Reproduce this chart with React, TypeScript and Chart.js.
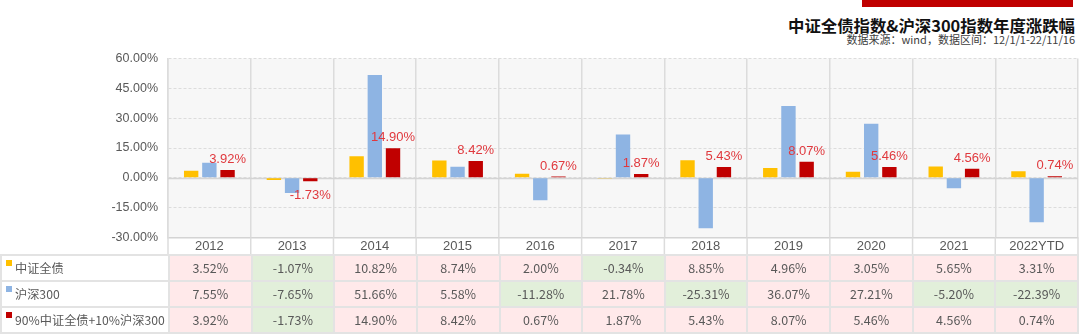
import React, { useEffect, useRef } from 'react';
import { Chart, registerables } from 'chart.js';

Chart.register(...registerables);

const categories = ['2012', '2013', '2014', '2015', '2016', '2017', '2018', '2019', '2020', '2021', '2022YTD'];
const seriesNames = ['中证全债', '沪深300', '90%中证全债+10%沪深300'];
const bondIndex = [3.52, -1.07, 10.82, 8.74, 2.0, -0.34, 8.85, 4.96, 3.05, 5.65, 3.31];
const csi300 = [7.55, -7.65, 51.66, 5.58, -11.28, 21.78, -25.31, 36.07, 27.21, -5.2, -22.39];
const mix = [3.92, -1.73, 14.9, 8.42, 0.67, 1.87, 5.43, 8.07, 5.46, 4.56, 0.74];
const seriesColors = ['#FFC000', '#8EB4E3', '#C00000'];
const yMin = -30;
const yMax = 60;
const yStep = 15;
const title = '中证全债指数&沪深300指数年度涨跌幅';
const subtitle = '数据来源：wind，数据区间：12/1/1-22/11/16';

const allSeries = [bondIndex, csi300, mix];
const pct = (v: number) => v.toFixed(2) + '%';

const bgPlugin = {
  id: 'plotBg',
  beforeDraw(chart: any) {
    const { ctx, chartArea } = chart;
    ctx.save();
    ctx.fillStyle = '#F7F7F7';
    ctx.fillRect(chartArea.left, chartArea.top, chartArea.right - chartArea.left, chartArea.bottom - chartArea.top);
    ctx.restore();
  },
};

const zeroLinePlugin = {
  id: 'zeroLine',
  beforeDatasetsDraw(chart: any) {
    const { ctx, chartArea, scales } = chart;
    const y = Math.round(scales.y.getPixelForValue(0)) + 0.5;
    ctx.save();
    ctx.strokeStyle = '#D4D4D4';
    ctx.lineWidth = 1.5;
    ctx.beginPath();
    ctx.moveTo(chartArea.left, y);
    ctx.lineTo(chartArea.right, y);
    ctx.stroke();
    ctx.restore();
  },
};

const extendPlugin = {
  id: 'extendLines',
  afterDraw(chart: any) {
    const { ctx, chartArea, height } = chart;
    const n = categories.length;
    const w = (chartArea.right - chartArea.left) / n;
    ctx.save();
    ctx.strokeStyle = '#DCDCDC';
    ctx.lineWidth = 1.5;
    for (let i = 0; i <= n; i++) {
      const x = chartArea.left + i * w;
      ctx.beginPath();
      ctx.moveTo(x, chartArea.bottom);
      ctx.lineTo(x, height);
      ctx.stroke();
    }
    ctx.restore();
  },
};

const labelPlugin = {
  id: 'mixLabels',
  afterDatasetsDraw(chart: any) {
    const { ctx } = chart;
    const meta = chart.getDatasetMeta(2);
    ctx.save();
    ctx.font = '13px "Liberation Sans", Arial, sans-serif';
    ctx.fillStyle = '#E0393E';
    ctx.textAlign = 'center';
    meta.data.forEach((bar: any, i: number) => {
      const v = mix[i];
      const { x, y } = bar.getProps(['x', 'y'], true);
      if (v >= 0) {
        ctx.textBaseline = 'alphabetic';
        ctx.fillText(pct(v), x, y - 7);
      } else {
        ctx.textBaseline = 'top';
        ctx.fillText(pct(v), x, y + 8);
      }
    });
    ctx.restore();
  },
};

function ChartCanvas() {
  const ref = useRef<HTMLCanvasElement | null>(null);
  useEffect(() => {
    if (!ref.current) return;
    const chart = new Chart(ref.current, {
      type: 'bar',
      data: {
        labels: categories,
        datasets: seriesNames.map((name, i) => ({
          label: name,
          data: allSeries[i],
          backgroundColor: seriesColors[i],
          borderWidth: 0,
          barPercentage: 0.79,
          categoryPercentage: 0.66,
        })),
      },
      options: {
        responsive: false,
        animation: false,
        layout: { padding: { top: 8.5, right: 2, left: 0, bottom: 0 } },
        plugins: {
          legend: { display: false },
          tooltip: { enabled: false },
          title: { display: false },
        },
        scales: {
          x: {
            grid: { offset: true, color: '#DCDCDC', lineWidth: 1.5, drawTicks: false },
            border: { display: true, color: '#D4D4D4', width: 1.5 },
            ticks: {
              color: '#595959',
              font: { family: '"Liberation Sans", Arial, sans-serif', size: 13 },
              padding: 1,
              maxRotation: 0,
              autoSkip: false,
            },
            afterFit(scale: any) {
              scale.height = 17.5;
              scale.paddingLeft = 0;
              scale.paddingRight = 0;
            },
          },
          y: {
            min: yMin,
            max: yMax,
            grid: { color: '#DCDCDC', lineWidth: 1, drawTicks: false },
            border: { display: true, color: '#DCDCDC', width: 1.5, dash: [3, 2] },
            ticks: {
              stepSize: yStep,
              color: '#595959',
              font: { family: '"Liberation Sans", Arial, sans-serif', size: 12.5 },
              padding: 10,
              callback: (v: any) => Number(v).toFixed(2) + '%',
            },
            afterFit(scale: any) {
              scale.width = 168;
              scale.paddingTop = 0;
              scale.paddingBottom = 0;
            },
          },
        },
      },
      plugins: [bgPlugin, zeroLinePlugin, extendPlugin, labelPlugin],
    });
    return () => chart.destroy();
  }, []);
  return (
    <canvas
      ref={ref}
      width={1080}
      height={205}
      style={{ position: 'absolute', left: 0, top: 50, width: 1080, height: 205 }}
    />
  );
}

const cellFont = '"Noto Sans CJK SC", "Microsoft YaHei", sans-serif';

function DataTable() {
  const border = '2px solid #E3E3E3';
  return (
    <table
      style={{
        position: 'absolute',
        left: 0,
        top: 254,
        width: 1079,
        borderCollapse: 'collapse',
        tableLayout: 'fixed',
        fontFamily: cellFont,
        fontSize: 12.5,
        color: '#595959',
      }}
    >
      <colgroup>
        <col style={{ width: 168 }} />
        {categories.map((c) => (
          <col key={c} />
        ))}
      </colgroup>
      <tbody>
        {seriesNames.map((name, si) => (
          <tr key={name} style={{ height: 26 }}>
            <td
              style={{
                border,
                background: '#FFFFFF',
                padding: '0 0 0 4px',
                whiteSpace: 'nowrap',
                lineHeight: '22px',
                fontSize: 12.2,
              }}
            >
              <span
                style={{
                  display: 'inline-block',
                  width: 6,
                  height: 6,
                  background: seriesColors[si],
                  verticalAlign: 'top',
                  marginTop: 3,
                  marginRight: 3,
                }}
              />
              {name}
            </td>
            {allSeries[si].map((v, ci) => (
              <td
                key={ci}
                style={{
                  border,
                  background: v >= 0 ? '#FFE9EA' : '#E2EFDA',
                  textAlign: 'center',
                  padding: 0,
                  lineHeight: '22px',
                }}
              >
                {pct(v)}
              </td>
            ))}
          </tr>
        ))}
      </tbody>
    </table>
  );
}

export default function App() {
  return (
    <div
      style={{
        position: 'absolute',
        left: 0,
        top: 0,
        width: 1080,
        height: 334,
        background: '#FFFFFF',
        overflow: 'hidden',
      }}
    >
      <div style={{ position: 'absolute', left: 862, top: 0, width: 211, height: 7, background: '#C00000' }} />
      <div
        style={{
          position: 'absolute',
          right: 5,
          top: 14.5,
          fontFamily: cellFont,
          fontWeight: 'bold',
          fontSize: 16.4,
          lineHeight: '20px',
          color: '#111111',
          whiteSpace: 'nowrap',
        }}
      >
        {title}
      </div>
      <div
        style={{
          position: 'absolute',
          right: 5,
          top: 32,
          fontFamily: cellFont,
          fontSize: 11,
          lineHeight: '14px',
          color: '#404040',
          whiteSpace: 'nowrap',
        }}
      >
        {subtitle}
      </div>
      <ChartCanvas />
      <DataTable />
    </div>
  );
}
